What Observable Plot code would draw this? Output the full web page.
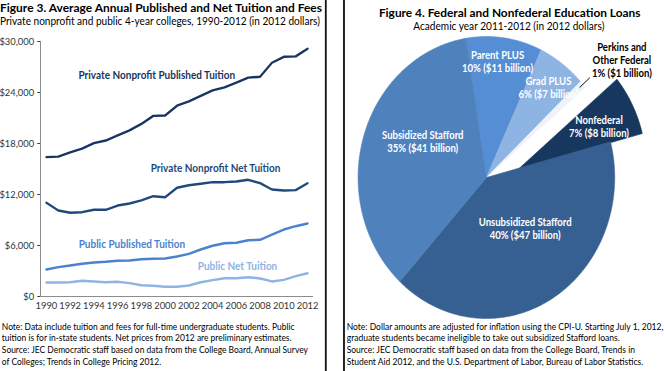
<!DOCTYPE html>
<html><head><meta charset="utf-8">
<script src="https://cdn.jsdelivr.net/npm/d3@7"></script>
<script src="https://cdn.jsdelivr.net/npm/@observablehq/plot@0.6"></script>
<style>
html,body{margin:0;padding:0;background:#fff;width:664px;height:371px;overflow:hidden;}
#page{position:absolute;left:0;top:0;width:730px;height:371px;transform:scale(0.91,1);transform-origin:0 0;font-family:Lato,"Open Sans",sans-serif;color:#000;}
.t{position:absolute;white-space:nowrap;}
.rule{position:absolute;top:0;width:2px;height:371px;background:#111;}
.panel{position:absolute;}
</style></head><body>
<div id="page">
  <div class="panel" id="left" style="left:0;top:30px;"></div>
  <div class="panel" id="right" style="left:380px;top:0;"></div>
  <div class="rule" style="left:357px"></div>
  <div class="rule" style="left:377px"></div>
</div>
<script>
// ---------- Figure 3 data ----------
const years = [1990,1991,1992,1993,1994,1995,1996,1997,1998,1999,2000,2001,2002,2003,2004,2005,2006,2007,2008,2009,2010,2011,2012];
const privatePublished = [16400,16450,16950,17400,18050,18350,18950,19550,20300,21250,21300,22450,22950,23600,24250,24600,25150,25750,25850,27500,28200,28250,29150];
const privateNet = [11020,10120,9850,9920,10200,10200,10700,10940,11300,11800,11680,12790,13090,13260,13450,13450,13530,13730,13330,12590,12470,12510,13330];
const publicPublished = [3180,3450,3650,3850,4000,4080,4200,4240,4390,4440,4470,4710,5020,5530,5970,6270,6320,6620,6670,7290,7880,8270,8590];
const publicNet = [1650,1650,1680,1850,1770,1680,1730,1570,1330,1260,1140,1140,1290,1680,1920,2150,2150,2270,2120,1770,1960,2390,2740];
const seriesNames = ["Private Nonprofit Published Tuition","Private Nonprofit Net Tuition","Public Published Tuition","Public Net Tuition"];
const xTicks = [1990,1992,1994,1996,1998,2000,2002,2004,2006,2008,2010,2012];
const yTicks = [0,6000,12000,18000,24000,30000];

// ---------- Figure 4 data ----------
const loanNames = ["Parent PLUS","Grad PLUS","Perkins and\nOther Federal","Nonfederal","Unsubsidized Stafford","Subsidized Stafford"];
const loanBillions = [11,7,1,8,47,41];
const loanPercents = [10,6,1,7,40,35];

// ---------- texts ----------
const title3 = "Figure 3. Average Annual Published and Net Tuition and Fees";
const subtitle3 = "Private nonprofit and public 4-year colleges, 1990-2012 (in 2012 dollars)";
const note3 = ["Note: Data include tuition and fees for full-time undergraduate students. Public",
  "tuition is for in-state students. Net prices from 2012 are preliminary estimates.",
  "Source: JEC Democratic staff based on data from the College Board, Annual Survey",
  "of Colleges; Trends in College Pricing 2012."];
const title4 = "Figure 4. Federal and Nonfederal Education Loans";
const subtitle4 = "Academic year 2011-2012 (in 2012 dollars)";
const note4 = ["Note: Dollar amounts are adjusted for inflation using the CPI-U. Starting July 1, 2012,",
  "graduate students became ineligible to take out subsidized Stafford loans.",
  "Source: JEC Democratic staff based on data from the College Board, Trends in",
  "Student Aid 2012, and the U.S. Department of Labor, Bureau of Labor Statistics."];

// ---------- styles ----------
const lineColors = ["#1A3461","#1F497D","#4A82CE","#8EB4E3"];
const sliceColors = ["#558ED5","#8EB4E3","#EEF3FA","#17375E","#376092","#4F81BD"];
const sliceTextColors = ["#fff","#fff","#000","#fff","#fff","#fff"];

// ---------- left chart ----------
const seriesValues = [privatePublished, privateNet, publicPublished, publicNet];
const rows = seriesNames.flatMap((n,k)=>years.map((yr,i)=>({name:n, year:yr, value:seriesValues[k][i]})));
const labelAnchors = [[1999.3,26000],[2004.25,15060],[1997.2,6120],[2006.1,3530]];
const lineLabels = seriesNames.map((n,k)=>({name:n, year:labelAnchors[k][0], value:labelAnchors[k][1]}));

const leftPlot = Plot.plot({
  width:358, height:290, marginTop:11, marginBottom:24, marginLeft:44, marginRight:14,
  style:{background:"transparent", fontFamily:"Lato, sans-serif", fontSize:"10.3px", color:"#333", overflow:"visible"},
  x:{domain:[1989.5,2012.5], ticks:xTicks, tickFormat:d=>String(d), tickSize:0, tickPadding:5, label:null},
  y:{domain:[0,30000], ticks:yTicks, tickFormat:d=>"$"+d3.format(",")(d), tickSize:3, tickPadding:4, label:null},
  color:{domain:seriesNames, range:lineColors},
  marks:[
    Plot.ruleX([1989.5],{stroke:"#868686"}),
    Plot.ruleY([0],{stroke:"#868686"}),
    Plot.line(rows,{x:"year", y:"value", z:"name", stroke:"name", strokeWidth:2.4}),
    Plot.text(lineLabels,{x:"year", y:"value", text:"name", fill:"name", fontWeight:"bold", fontSize:11})
  ]
});
document.getElementById("left").appendChild(leftPlot);

// ---------- right chart (pie) ----------
const loans = loanNames.map((n,i)=>({name:n, billions:loanBillions[i], pct:loanPercents[i]}));
const deg = Math.PI/180;
const pieStart = -9.2*deg;
const arcs = d3.pie().sort(null).value(d=>d.billions).startAngle(pieStart).endAngle(pieStart+2*Math.PI)(loans);
const explode = [0,0,0,0.255,0,0];
const explodeTurn = [0,0,0,14,0,0];
const labelRadius = [0.83,0.80,1.345,0.70,0.47,0.56];
const labelTurn = [-2,1,3,1.2,-8.9,11];

function offsetOf(a,i){
  const dir = (a.startAngle+a.endAngle)/2 + explodeTurn[i]*deg;
  return [explode[i]*Math.sin(dir), explode[i]*Math.cos(dir)];
}
const sliceMarks = arcs.map((a,i)=>{
  const [ox,oy] = offsetOf(a,i);
  const n = Math.max(2, Math.ceil((a.endAngle-a.startAngle)/(0.5*deg)));
  const pts = [{x:ox,y:oy}];
  for (let k=0;k<=n;k++){ const t=a.startAngle+(a.endAngle-a.startAngle)*k/n; pts.push({x:ox+Math.sin(t), y:oy+Math.cos(t)}); }
  pts.push({x:ox,y:oy});
  return Plot.line(pts,{x:"x", y:"y", fill:sliceColors[i], stroke:sliceColors[i], strokeWidth:0.6, curve:"linear"});
});
const pieLabels = arcs.map((a,i)=>{
  const mid = (a.startAngle+a.endAngle)/2;
  const [ox,oy] = offsetOf(a,i);
  const t = mid + labelTurn[i]*deg;
  return {x:ox+labelRadius[i]*Math.sin(t), y:oy+labelRadius[i]*Math.cos(t),
          text:`${a.data.name}\n${a.data.pct}% ($${a.data.billions} billion)`, color:sliceTextColors[i]};
});
const perkins = arcs[2];
const pm = (perkins.startAngle+perkins.endAngle)/2;
const leader = [0.97,1.07].map(r=>({x:r*Math.sin(pm), y:r*Math.cos(pm)}));

const cx = 154, cy = 177, R = 141;
const rightPlot = Plot.plot({
  width:350, height:330, margin:0,
  style:{background:"transparent", fontFamily:"Lato, sans-serif", overflow:"visible"},
  x:{domain:[-1,1], range:[cx-R,cx+R], axis:null},
  y:{domain:[-1,1], range:[cy+R,cy-R], axis:null},
  marks:[
    ...sliceMarks,
    Plot.line(leader,{x:"x", y:"y", stroke:"#000", strokeWidth:1}),
    Plot.text(pieLabels,{x:"x", y:"y", text:"text", fill:d=>d.color, fontWeight:"bold", fontSize:10.5, lineHeight:1.24, lineAnchor:"middle"})
  ]
});
document.getElementById("right").appendChild(rightPlot);

// ---------- HTML texts (font size by height, squeezed to the measured width) ----------
const page = document.getElementById("page");
function place(lines, o){
  const els = lines.map(s=>{const d=document.createElement("div"); d.className="t"; d.textContent=s;
    d.style.fontWeight=o.weight||400; d.style.fontSize=o.size+"px"; d.style.lineHeight=o.lh+"px"; d.style.color=o.color||"#000";
    page.appendChild(d); return d;});
  const k = o.target/(els[o.ref||0].getBoundingClientRect().width/0.91);
  els.forEach((d,i)=>{ const w=d.getBoundingClientRect().width/0.91;
    d.style.transformOrigin = o.anchor==="middle" ? "50% 50%" : "0 50%";
    d.style.transform = `scaleX(${k})`;
    d.style.left=(o.anchor==="middle"? o.x-w/2 : o.x)+"px"; d.style.top=(o.cy+i*o.lh-o.lh/2)+"px"; });
}
place([title3],{x:0, cy:7.2, lh:13, size:12, weight:700, target:353.8});
place([subtitle3],{x:0, cy:20.9, lh:12, size:10.8, target:351.6});
place(note3,{x:2.2, cy:326.5, lh:11.7, size:10, target:336.3, ref:2});
place([title4],{x:559.9, anchor:"middle", cy:13.2, lh:12, size:12, weight:700, target:287.5});
place([subtitle4],{x:559.3, anchor:"middle", cy:25.2, lh:11, size:10.8, target:209.9});
place(note4,{x:381.3, cy:326.5, lh:11.7, size:10, target:348, ref:0});
</script>
</body></html>
